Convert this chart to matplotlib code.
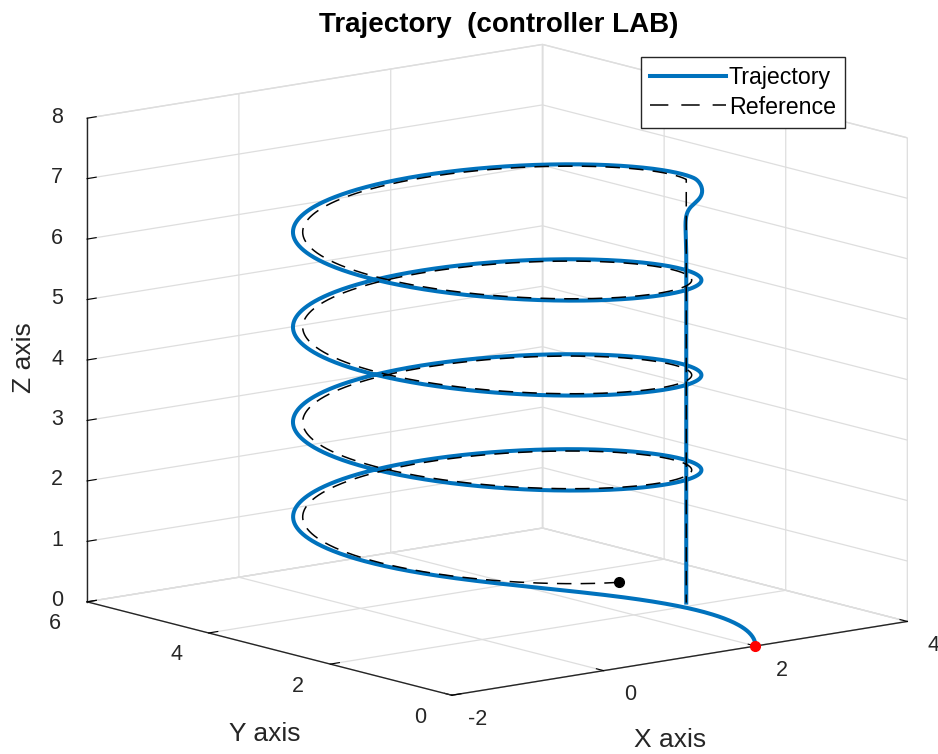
import numpy as np
import matplotlib
matplotlib.use('Agg')
from matplotlib import pyplot as plt
from matplotlib.lines import Line2D
from mpl_toolkits.mplot3d import proj3d

plt.rcParams['font.family'] = ['Liberation Sans', 'DejaVu Sans']
plt.rcParams['axes.unicode_minus'] = False

# reference helix: centre (x, y), radius, start height, climb per radian, last angle
helix_center = [1.0, 3.0]
helix_radius = 2.0
helix_z0 = 1.0
helix_climb = 0.25
helix_t_end = 24.0
descent_rate = 0.35         # z units per unit of descent parameter

# flown trajectory: start point, radius, phase lag
traj_start = [2.0, 0.0, 0.0]
traj_radius = 2.1
traj_lag = 0.04
# settling of the position loop: natural frequency, damping (take-off, landing)
xy_freq = [3.7, 2.4]
xy_damp = [0.97, 0.7]
z_tau = [0.3, 0.2]

x_ticks = [-2, 0, 2, 4]
y_ticks = [0, 2, 4, 6]
z_ticks = [0, 1, 2, 3, 4, 5, 6, 7, 8]

blue = '#0072BD'
grid_c = '#dedede'
ink = '#262626'

# reference path
t = np.linspace(0, helix_t_end, 4000)
cx, cy = helix_center
ref_x = cx - helix_radius * np.sin(t)
ref_y = cy - helix_radius * np.cos(t)
ref_z = helix_z0 + helix_climb * t
z_top = ref_z[-1]
s = np.linspace(0, z_top / descent_rate, 2000)
ref_x = np.concatenate([ref_x, np.full_like(s, ref_x[-1])])
ref_y = np.concatenate([ref_y, np.full_like(s, ref_y[-1])])
ref_z = np.concatenate([ref_z, z_top - descent_rate * s])


def settle(e0, v0, w, zeta, u):
    # damped second order decay of an initial error e0 moving at rate v0
    wd = w * np.sqrt(1 - zeta ** 2)
    return np.exp(-zeta * w * u) * (e0 * np.cos(wd * u)
                                    + (v0 + zeta * w * e0) / wd * np.sin(wd * u))


def settle_z(e0, v0, tau, u):
    return (e0 + (v0 + e0 / tau) * u) * np.exp(-u / tau)


# trajectory along the helix
tl = t - traj_lag
hx = cx - traj_radius * np.sin(tl)
hy = cy - traj_radius * np.cos(tl)
hz = helix_z0 + helix_climb * tl
dhx = -traj_radius * np.cos(tl)
dhy = traj_radius * np.sin(tl)
bx = hx + settle(traj_start[0] - hx[0], -dhx[0], xy_freq[0], xy_damp[0], t)
by = hy + settle(traj_start[1] - hy[0], -dhy[0], xy_freq[0], xy_damp[0], t)
bz = hz + (traj_start[2] - hz[0]) * np.exp(-t / z_tau[0])

# trajectory during the descent
ex, ey = ref_x[len(t) - 1], ref_y[len(t) - 1]
dx = settle(bx[-1] - ex, dhx[-1], xy_freq[1], xy_damp[1], s)
dy = settle(by[-1] - ey, dhy[-1], xy_freq[1], xy_damp[1], s)
dz = settle_z(bz[-1] - z_top, helix_climb + descent_rate, z_tau[1], s)
bx = np.concatenate([bx, ex + dx])
by = np.concatenate([by, ey + dy])
bz = np.concatenate([bz, z_top - descent_rate * s + dz])

fig = plt.figure(figsize=(9.38, 7.54), dpi=100)
ax = fig.add_axes([0.0192, -0.004, 1, 1], projection='3d')
ax.set_proj_type('ortho')
ax.view_init(elev=11.75, azim=-128.5)
ax.set_box_aspect((582, 586, 494), zoom=1.239)
ax.computed_zorder = False

ax.plot(bx, by, bz, color=blue, lw=2.9)
ax.plot(ref_x, ref_y, ref_z, color='k', lw=1.1, dashes=(9.5, 6))
ax.plot([traj_start[0]], [traj_start[1]], [traj_start[2]], 'o', color='r', ms=7)
ax.plot([ref_x[0]], [ref_y[0]], [ref_z[0]], 'o', color='k', ms=7)

ax.set_xlim(-2, 4, view_margin=0)
ax.set_ylim(0, 6, view_margin=0)
ax.set_zlim(0, 8, view_margin=0)
ax.set_xticks(x_ticks)
ax.set_yticks(y_ticks)
ax.set_zticks(z_ticks)

for axis in (ax.xaxis, ax.yaxis, ax.zaxis):
    axis.set_tick_params(labelbottom=False)
    axis.set_pane_color((1, 1, 1, 1))
    axis.pane.set_edgecolor(grid_c)
    axis._axinfo['grid'].update(color=grid_c, linewidth=0.9)
    axis._axinfo['tick'].update(inward_factor=0, outward_factor=0.25, color=ink)
    axis.line.set_color(ink)
    axis.line.set_linewidth(1.0)

# tick labels, set just outside the front edges of the box
M = ax.get_proj()
lab = dict(fontsize=15.5, color=ink, ha='center', va='center')


def tick_label(x, y, z, txt):
    px, py, _ = proj3d.proj_transform(x, y, z, M)
    ax.text2D(px, py, txt, transform=ax.transData, **lab)


for v in x_ticks:
    tick_label(v, -0.43, -0.286, str(v))
for v in y_ticks:
    tick_label(-2.423, v, -0.278, str(v))
for v in z_ticks:
    tick_label(-2.21, 6.231, v, str(v))

fig.text(670 / 938, 1 - 740 / 754, 'X axis', fontsize=19, color=ink, ha='center', va='center')
fig.text(265 / 938, 1 - 734 / 754, 'Y axis', fontsize=19, color=ink, ha='center', va='center')
fig.text(24 / 938, 1 - 358 / 754, 'Z axis', fontsize=19, color=ink, ha='center', va='center',
         rotation=90)

fig.text(499 / 938, 1 - 32 / 754, 'Trajectory  (controller LAB)', ha='center',
         va='baseline', fontsize=20, fontweight='bold')

handles = [Line2D([], [], color=blue, lw=2.9),
           Line2D([], [], color='k', lw=1.1, dashes=(12, 8.5))]
ax.legend(handles, ['Trajectory', 'Reference'], loc='upper right',
          bbox_to_anchor=(845 / 938, 1 - 57 / 754),
          bbox_transform=fig.transFigure, fontsize=16.7, fancybox=False,
          framealpha=1, edgecolor=ink, handlelength=3.3, borderaxespad=0,
          handletextpad=0.1, borderpad=0.4, labelspacing=0.27)

fig.savefig('out.png', dpi=100)
